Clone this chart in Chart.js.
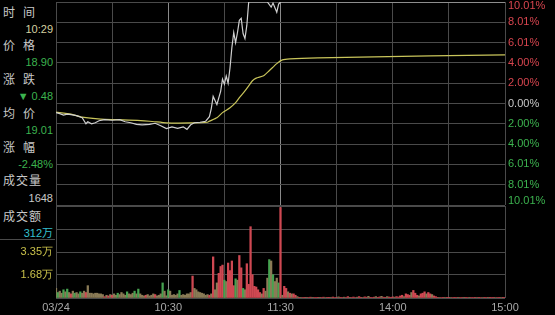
<!DOCTYPE html>
<html>
<head>
<meta charset="utf-8">
<script src="https://cdn.jsdelivr.net/npm/chart.js@4.4.1/dist/chart.umd.min.js"></script>
<style>
html,body{margin:0;padding:0;background:#000;width:555px;height:315px;overflow:hidden;}
#wrap{position:relative;width:555px;height:315px;font-family:"Liberation Sans","Noto Sans CJK SC",sans-serif;}
#pc{position:absolute;left:0;top:0;}
#vc{position:absolute;left:0;top:204px;}
.lb{position:absolute;left:3px;font-size:12px;line-height:16px;color:#c8c8c8;font-family:"Noto Sans CJK SC",sans-serif;letter-spacing:1px;}
.lb.two{letter-spacing:8px;}
.nv{position:absolute;right:502px;font-size:11px;line-height:16px;text-align:right;white-space:nowrap;}
#amtbox{position:absolute;left:0;top:206px;width:55px;height:33px;border-bottom:1px solid #4a4a4a;}
</style>
</head>
<body>
<div id="wrap">
  <div id="amtbox"></div>
  <div class="lb two" style="top:4px">时间</div>
  <div class="nv" style="top:21px;color:#d4d0a0">10:29</div>
  <div class="lb two" style="top:37px">价格</div>
  <div class="nv" style="top:54px;color:#3cb34f">18.90</div>
  <div class="lb two" style="top:71px">涨跌</div>
  <div class="nv" style="top:88px;color:#3cb34f">▼ 0.48</div>
  <div class="lb two" style="top:105px">均价</div>
  <div class="nv" style="top:122px;color:#3cb34f">19.01</div>
  <div class="lb two" style="top:139px">涨幅</div>
  <div class="nv" style="top:156px;color:#3cb34f">-2.48%</div>
  <div class="lb" style="top:172px">成交量</div>
  <div class="nv" style="top:190px;color:#c8c8c8">1648</div>
  <div class="lb" style="top:208px">成交额</div>
  <div class="nv" style="top:225px;color:#35c0d0">312万</div>
  <canvas id="pc" width="555" height="206"></canvas>
  <canvas id="vc" width="555" height="111"></canvas>
</div>
<script>
// time axis: minutes from 09:30 (0) to 15:00 (240), 11:30/13:00 share 120
const xTickMins=[0,60,120,180,240];
const xTickLabels=['03/24','10:30','11:30','14:00','15:00'];

// price change % vs previous close
const pctTicks=[10.01,8.01,6.01,4.00,2.00,0,-2.00,-4.00,-6.01,-8.01,-10.01];
const priceMin=[0,2,4,6,8,11,14,16,17,19,21,23,26,30,34,37,40,43,46,50,53,56,59,62,65,68,70,72,74,77,80,82,83,84,85,86,88,89,90,91,92,93,94,95,96,97,98,99,100,101,102,103,113,115,116,118,119,120,240];
const pricePct=[-0.9,-1.0,-1.15,-1.05,-1.1,-1.2,-1.4,-2.0,-1.8,-2.0,-1.9,-1.7,-1.6,-1.65,-1.6,-1.8,-1.9,-2.05,-2.1,-2.05,-1.95,-2.2,-2.48,-2.3,-2.45,-2.3,-2.55,-2.1,-1.9,-1.85,-1.75,-1.3,-0.5,0.7,0.3,-0.1,1.2,2.4,1.9,2.7,2.0,3.5,5.5,7.0,6.0,7.0,8.2,8.4,6.9,6.4,7.7,10.01,10.01,9.5,9.9,9.0,9.8,10.01,10.01];
const avgMin=[0,8,14,24,33,50,59,72,81,82,86,89,93,96,98,101,103,105,107,111,114,118,121,125,140,170,200,240];
const avgPct=[-0.85,-1.05,-1.35,-1.55,-1.6,-1.75,-1.91,-1.92,-1.85,-1.74,-1.41,-0.9,-0.42,0.08,0.58,1.24,1.74,2.24,2.5,2.74,3.23,3.93,4.3,4.4,4.5,4.6,4.7,4.8];

// volume (万), one bar per minute
const volTicks=[0,1.68,3.35,5.03,6.71];
const volTickLabels=['','1.68万','3.35万','',''];
const volAM=[0.7,0.4,0.5,0.35,0.6,0.45,0.65,0.4,0.3,0.5,0.35,
  0.4,0.3,0.45,0.35,0.5,0.4,0.9,
  0.35,0.35,0.3,0.35,0.35,0.3,0.3,0.25,
  0.1,0.2,0.15,0.25,0.2,0.3,0.2,0.35,0.25,0.4,0.3,0.2,0.45,0.3,0.25,0.35,0.5,0.3,0.65,0.3,
  0.2,0.15,0.2,0.25,0.15,0.2,0.3,0.25,0.15,0.2,0.3,1.1,0.5,0.16,
  0.6,0.5,0.2,0.25,0.2,0.3,0.55,0.2,0.25,0.2,0.3,0.3,0.4,1.6,0.7,0.6,0.45,0.4,0.35,0.3,0.2,0.25,0.2,0.3,
  3.0,0.6,1.1,1.8,2.3,2.4,1.3,1.2,2.55,2.0,2.7,0.9,1.4,1.3,3.1,2.2,0.7,0.6,2.5,1.0,5.2,1.7,0.85,0.8,0.6,0.4,0.3,0.7,0.5,1.45,2.8,2.7,1.7,1.2,1.45,1.1,6.6];
const volPM=[0.2,0.85,0.7,0.45,0.35,0.3,0.3,0.2,0.1,
  0.05,0.03,0.04,0.02,0.05,0.03,0.06,0.02,0.03,0.04,
  0.05,0.02,0.03,0.06,0.04,0.02,0.05,0.03,0.07,0.04,
  0.03,0.08,0.05,0.03,0.06,0.04,0.1,0.05,0.03,0.07,
  0.04,0.06,0.1,0.05,0.04,0.08,0.06,0.12,0.05,0.04,
  0.06,0.1,0.05,0.08,0.12,0.06,0.05,0.1,0.07,0.05,
  0.08,0.06,0.1,0.07,
  0.15,0.2,0.1,0.3,0.25,0.2,0.4,0.55,0.35,0.2,0.15,0.3,0.35,0.45,0.3,0.4,0.3,0.25,0.15,0.1,
  0.05,0.03,0.04,0.02,0.03,0.05,0.02,0.03,0.04,0.02,
  0.03,0.02,0.04,0.03,0.02,0.05,0.03,0.02,0.03,0.04,
  0.02,0.03,0.02,0.04,0.03,0.02,0.03,0.05,0.02,0.03,
  0.02,0.04,0.03,0.02,0.03,0.02,0.04];
// r = up minute, g = down minute, t = flat
const volDirAM='tgttgtgtrtg'+'ttgttrt'+'tttttttt'+'rtrtrttgttttgtttgtgt'+'ttrttttrtttgtt'+'gtttttgttttttrttttttttrt'+'rttrrrgtrrrrgtrrgtrrrrrrrrtrttgtgttgr';
const volDirPM='trrtrtrrt'+'rtrrtrrtrrrtrrtrrtrrrtrrtrrtrrrtrrtrrtrrrtrrtrrtrrrtrr'+'rrtrrrtrrrtrrrtrrtrr'+'rtrrtrrtrrrtrrtrrtrrrtrrtrrtrrrtrrtrr';

const RED='#d8454f', GRN='#3cb34f', WHT='#c8c8c8';
const BARCOL={r:'#cf4852',g:'#46a350',t:'#8a7b56'};
const GRID='#4a4a4a';

const xGrid={color:c=>(c.tick&&(c.tick.value===60||c.tick.value===120))?'#8a8a8a':GRID,drawTicks:false,lineWidth:1};
const noPad=s=>{s.paddingTop=0;s.paddingBottom=0;s.paddingLeft=0;s.paddingRight=0;};

new Chart(document.getElementById('pc'),{
  type:'line',
  data:{datasets:[
    {label:'价格',data:priceMin.map((m,i)=>({x:m,y:pricePct[i]})),
     borderColor:'#cfcfcf',borderWidth:1.2,pointRadius:0,tension:0},
    {label:'均价',data:avgMin.map((m,i)=>({x:m,y:avgPct[i]})),
     borderColor:'#c9c55b',borderWidth:1.2,pointRadius:0,tension:0.2}
  ]},
  options:{responsive:false,animation:false,
    layout:{padding:{left:56,top:2,bottom:1,right:0}},
    plugins:{legend:{display:false},tooltip:{enabled:false}},
    scales:{
      x:{type:'linear',min:0,max:240,border:{display:false},grid:xGrid,
        ticks:{display:false,stepSize:30},afterFit:s=>{s.height=0;noPad(s);}},
      y:{position:'right',min:-10.01,max:10.01,border:{display:false},
        grid:{color:GRID,drawTicks:false},
        afterBuildTicks:s=>{s.ticks=pctTicks.map(v=>({value:v}));},
        afterFit:s=>{s.width=50;noPad(s);},
        ticks:{padding:3,autoSkip:false,font:{family:'Liberation Sans',size:11,lineHeight:0.8},
          color:c=>c.tick.value>0?RED:(c.tick.value<0?GRN:WHT),
          callback:(v,i)=>{
            const t=Math.abs(v).toFixed(2)+'%';
            if(i===0) return ['',t];
            if(i===pctTicks.length-1) return [t,''];
            return t;
          }}}
    }}
});

const volAll=volAM.concat(volPM);
const volDir=(volDirAM+volDirPM).split('');
new Chart(document.getElementById('vc'),{
  type:'bar',
  data:{datasets:[{label:'成交量',data:volAll.map((v,i)=>({x:i,y:v})),
    backgroundColor:volAll.map((v,i)=>BARCOL[volDir[i]]||BARCOL.r),
    barThickness:1.6,borderWidth:0}]},
  options:{responsive:false,animation:false,
    layout:{padding:{left:0,top:2,bottom:0,right:50}},
    plugins:{legend:{display:false},tooltip:{enabled:false}},
    scales:{
      x:{type:'linear',min:0,max:240,offset:false,border:{display:false},
        grid:Object.assign({offset:false},xGrid),
        afterFit:s=>{s.height=17;noPad(s);},
        ticks:{stepSize:30,autoSkip:false,maxRotation:0,padding:3,color:'#a8a8a8',
          font:{family:'Liberation Sans',size:11},
          callback:v=>{const k=xTickMins.indexOf(v);return k<0?'':xTickLabels[k];}}},
      y:{position:'left',min:0,max:6.71,border:{display:false},
        grid:{color:GRID,drawTicks:false},
        afterBuildTicks:s=>{s.ticks=volTicks.map(v=>({value:v}));},
        afterFit:s=>{s.width=56;noPad(s);},
        ticks:{padding:3,autoSkip:false,color:'#c9c14a',font:{family:'Liberation Sans',size:11},
          callback:(v,i)=>volTickLabels[i]}}
    }}
});
</script>
</body>
</html>
